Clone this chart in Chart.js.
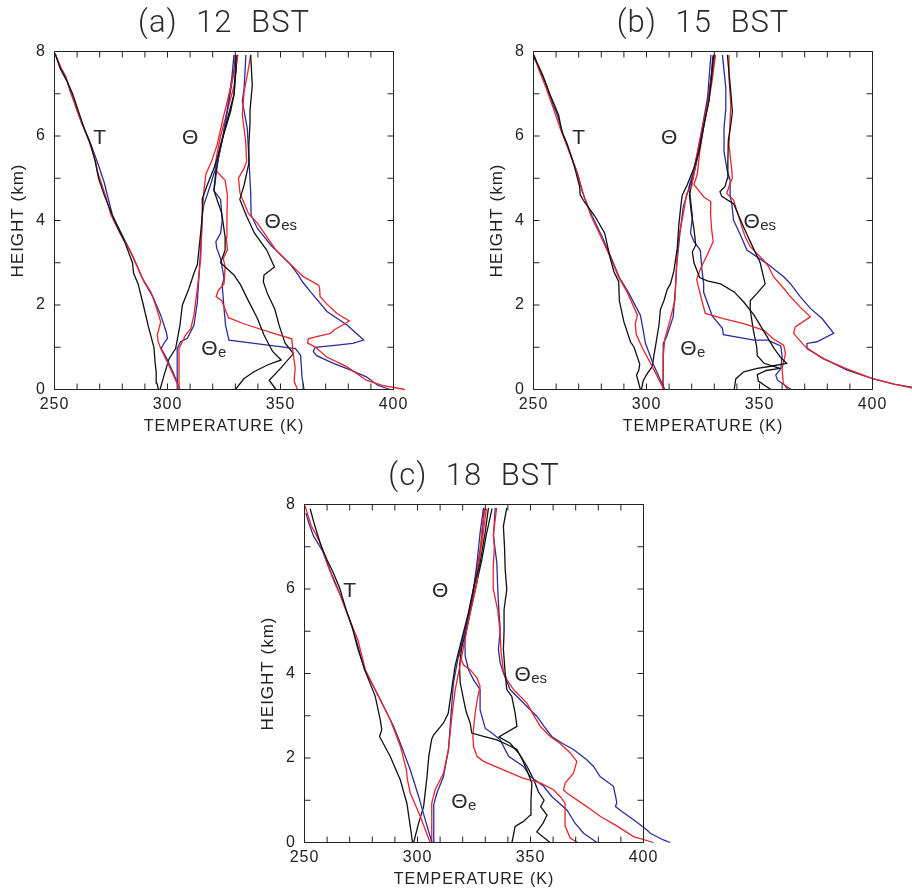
<!DOCTYPE html>
<html>
<head>
<meta charset="utf-8">
<script src="https://cdn.jsdelivr.net/npm/chart.js@4.4.1/dist/chart.umd.min.js"></script>
<style>
  html, body { margin: 0; padding: 0; background: #fff; overflow: hidden; width: 912px; height: 888px; }
  canvas { position: absolute; }
</style>
</head>
<body>
<canvas id="panelA" width="456" height="444" style="left:0px;top:0px"></canvas>
<canvas id="panelB" width="456" height="444" style="left:479px;top:0px"></canvas>
<canvas id="panelC" width="456" height="444" style="left:250px;top:453px"></canvas>
<script>
// profiles as [temperature K, height km], bottom to top

// ---- (a) 12 BST ----
const a_T_k = [[296,0],[295.3,0.15],[295,0.4],[294.5,0.65],[294,1.0],[291.5,1.5],[289.3,2.0],[287,2.5],[285,2.75],[284.5,3.0],[281,3.5],[276.5,4.0],[272,4.6],[269.5,5.0],[268,5.4],[266,5.8],[263,6.2],[260.5,6.6],[258,7.0],[255.5,7.3],[252.5,7.6],[250.3,7.95]];
const a_T_r = [[305.5,0],[302.5,0.35],[299.9,0.65],[297,0.97],[295.8,1.15],[295.5,1.3],[297,1.6],[295,1.95],[292.6,2.31],[288.9,2.63],[283.7,3.26],[279,3.7],[275,4.13],[272.5,4.6],[269,5.16],[268.2,5.4],[265.3,5.87],[262.6,6.25],[260.1,6.58],[257.8,6.95],[255.7,7.29],[253,7.6],[250.5,7.92]];
const a_T_b = [[305.5,0],[302.5,0.4],[299.5,0.75],[297.2,0.97],[298.5,1.1],[300,1.21],[299.5,1.35],[297,1.76],[293.5,2.2],[289.6,2.55],[284.4,3.18],[280,3.65],[275.6,4.13],[272,4.9],[269.5,5.3],[267.5,5.6],[265,5.95],[262,6.3],[259.5,6.7],[257,7.05],[255,7.4],[252.5,7.65],[250.2,7.95]];
const a_th_k = [[296.7,0],[298.5,0.34],[300.7,0.73],[303.6,0.97],[305.5,1.52],[306.6,2.0],[309.5,2.39],[311.7,2.75],[313.2,2.95],[314.7,3.72],[315.4,4.13],[315.4,4.52],[317.6,4.84],[320.6,5.24],[322,5.47],[323.5,5.79],[325.7,6.18],[327.9,6.58],[329.4,6.97],[330,7.5],[330.2,7.92]];
const a_th_r = [[305.2,0],[305.1,0.97],[306.6,1.13],[308,1.29],[310.3,1.44],[311.7,1.76],[313.2,2.39],[314.7,3.1],[315.4,4.13],[316.1,4.7],[317,5.1],[319.5,5.4],[322,5.8],[324.5,6.4],[326.8,6.9],[329,7.4],[331.2,7.92]];
const a_th_b = [[304.3,0],[304.3,0.97],[305.8,1.13],[308.8,1.21],[311.7,1.52],[313.2,2.07],[314.7,3.34],[315.4,4.13],[316.1,4.37],[319,4.84],[321.3,5.24],[322.8,5.55],[325,6.1],[327.2,6.89],[328.5,7.4],[329.4,7.92]];
const a_the_k = [[330,0],[333.9,0.26],[338.3,0.42],[344.2,0.58],[350.3,0.7],[346.5,0.9],[342.7,1.29],[339.8,1.68],[335.3,2.15],[332.4,2.47],[329.4,2.71],[323.5,3.0],[325.5,3.3],[325.5,3.6],[324,4.17],[320.5,4.72],[321.5,5.2],[323,5.6],[325,6.1],[327.5,6.6],[329.5,7.0],[330.8,7.92]];
const a_the_r = [[357.5,0],[356,0.2],[356.5,0.5],[355.5,0.9],[355,1.2],[347,1.33],[334,1.55],[327,1.7],[325.5,1.9],[324,2.1],[321.5,2.2],[322.5,2.35],[325,2.5],[325.5,2.9],[324.7,3.1],[326.5,3.3],[326,3.6],[326.3,4.1],[326.5,4.6],[325.5,4.95],[322,5.15],[321,5.3],[322,5.6],[323.5,6.0],[325.5,6.4],[327.5,6.8],[329.5,7.2],[331,7.92]];
const a_the_b = [[360.4,0],[359.5,0.3],[358.9,0.81],[356.6,0.97],[338.3,1.09],[327.2,1.17],[325.7,1.52],[325,1.92],[324.2,2.47],[325,2.63],[323.5,3.1],[321.8,3.34],[321.4,3.5],[323.5,3.7],[324.2,4.0],[323.5,4.5],[320.6,4.7],[321.3,5.0],[322.5,5.5],[324.5,6.0],[326.5,6.6],[328,7.1],[329.5,7.6],[330,7.92]];
const a_thes_k = [[348,0],[345,0.22],[350,0.5],[355.7,0.85],[352,1.1],[349.5,1.5],[347.5,1.9],[344.2,2.27],[342.4,2.55],[342.7,2.71],[347.3,2.9],[343.9,3.3],[338.5,3.7],[335,4.1],[332,4.5],[333.9,4.84],[336,5.35],[336,5.8],[336.5,6.3],[336.5,6.6],[337.5,7.2],[336.8,7.92]];
const a_thes_r = [[405,0],[395,0.1],[388,0.22],[379.3,0.54],[370.4,0.77],[365.3,1.01],[362,1.1],[362.3,1.2],[366,1.25],[372.2,1.33],[373.7,1.41],[380.5,1.62],[375,1.8],[370,2.05],[367.5,2.2],[367.3,2.4],[366.9,2.47],[360.1,2.67],[354.2,2.98],[348,3.3],[343.9,3.62],[339.6,3.95],[335.8,4.17],[332.1,4.64],[331.4,5.0],[333.9,5.24],[335,5.4],[334.6,5.87],[333.1,6.5],[333.9,7.05],[335.5,7.5],[336.8,7.92]];
const a_thes_b = [[398.5,0],[393,0.1],[388,0.3],[380,0.48],[373.4,0.62],[366,0.8],[364.5,0.9],[365.3,1.0],[375,1.05],[382,1.09],[386.8,1.17],[379.6,1.52],[370.7,1.84],[363.3,2.31],[359.7,2.55],[358,2.7],[354.5,2.95],[345.7,3.42],[339.8,3.81],[337,4.13],[336.8,4.68],[336.1,5.39],[335.3,6.18],[333.1,6.82],[333.9,7.13],[334.7,7.92]];

// ---- (b) 15 BST ----
const b_T_k = [[297.3,0],[295.6,0.34],[296.6,0.46],[297,0.6],[294.5,1.0],[292.9,1.13],[290,1.6],[288,2.1],[287.7,2.55],[285.5,2.8],[284,3.1],[281.5,3.7],[277.2,4.1],[272.4,4.45],[270.7,4.6],[270.4,4.8],[268,5.3],[265,5.8],[262.6,6.1],[261.1,6.5],[257.4,6.97],[254,7.45],[250,7.92]];
const b_T_r = [[307.7,0],[302,0.6],[298,1.0],[295.5,1.3],[295,1.55],[296,1.76],[291.4,2.31],[287.7,2.65],[284.8,3.03],[280,3.6],[275.5,4.1],[272.2,4.6],[269.2,5.16],[266,5.6],[261.8,6.18],[258.5,6.7],[255.5,7.15],[252.5,7.55],[250.2,7.92]];
const b_T_b = [[308.1,0],[303,0.6],[299.5,1.1],[298.8,1.33],[297.3,1.76],[292,2.3],[288,2.65],[284.5,3.1],[280.5,3.6],[276,4.1],[272.8,4.5],[271.5,4.7],[269.5,5.1],[266.5,5.55],[263,6.05],[260.5,6.5],[258.1,6.82],[255,7.3],[252,7.65],[250,7.88]];
const b_th_k = [[297.8,0],[298.5,0.2],[300,0.35],[302.5,0.54],[303.3,0.81],[304,1.03],[305.5,1.52],[306.2,1.9],[307.7,2.1],[309.2,2.37],[310.6,2.5],[312.1,2.8],[313.6,3.34],[314.3,3.89],[315.1,4.3],[315.8,4.6],[318,4.84],[321,5.24],[323.2,5.63],[325.4,6.26],[327.6,6.82],[328.8,7.4],[329.6,7.92]];
const b_th_r = [[307.6,0],[307.4,0.77],[308.1,1.2],[310.4,1.64],[312.6,2.12],[313.3,2.91],[314.1,3.54],[316.3,4.17],[317.8,4.64],[320,4.8],[320.7,5.04],[322.2,5.51],[325.1,6.3],[327.4,6.86],[328.8,7.4],[330.3,7.88]];
const b_th_b = [[307.3,0],[307.4,1.09],[308.9,1.25],[311.8,1.72],[312.8,2.4],[313.3,2.91],[314.8,3.7],[316.3,4.33],[318.5,4.72],[320.7,5.04],[323.7,5.75],[325.9,6.38],[327.8,7.0],[328.8,7.5],[329.3,7.88]];
const b_the_k = [[338.8,0],[339.5,0.25],[343,0.42],[349,0.5],[355,0.55],[362,0.62],[359.5,0.75],[356.5,0.97],[352,1.37],[347.6,1.76],[343,2.07],[338.8,2.31],[332.8,2.5],[326.9,2.57],[323.5,2.65],[321,3.0],[320.3,3.26],[321.8,3.42],[321,3.8],[319.8,4.2],[319,4.6],[320.5,5.0],[322.5,5.5],[325,6.2],[327.5,6.9],[329.8,7.92]];
const b_the_r = [[362.5,0],[360.5,0.15],[360,0.5],[361.5,0.85],[360.7,1.05],[356,1.2],[352,1.4],[343,1.56],[334,1.68],[326,1.8],[324.5,2.1],[322.2,2.6],[323.8,2.85],[327,3.2],[329.5,3.5],[328.8,3.8],[328.3,4.2],[328.4,4.45],[325.5,4.55],[321,4.85],[322.5,5.1],[323.5,5.6],[325.5,6.3],[327.5,6.8],[329,7.3],[330.5,7.92]];
const b_the_b = [[364,0],[358,0.22],[357.2,0.34],[359.5,0.5],[360,0.8],[359.4,1.03],[353.6,1.17],[347.6,1.17],[334,1.3],[333.6,1.45],[329,1.75],[325.3,2.3],[325.3,2.5],[324.5,2.85],[323.8,3.3],[321,3.5],[319.5,3.7],[320.3,4.1],[319.5,4.5],[318.8,4.8],[320.5,5.1],[322.5,5.6],[325,6.3],[327,6.9],[328.5,7.92]];
const b_thes_k = [[355,0],[349.5,0.2],[349,0.35],[353,0.45],[359,0.5],[352,0.62],[349,0.8],[348.8,1.0],[347.3,1.4],[345.9,1.88],[345.9,2.1],[348.8,2.27],[352.5,2.5],[350.3,3.0],[345.9,3.5],[342.9,3.85],[338.5,4.4],[333.3,4.57],[332.5,4.68],[334.7,4.8],[335.8,5.0],[336,5.4],[336.2,5.9],[337.3,6.26],[338,6.58],[337.3,7.05],[336.5,7.5],[335.8,7.92]];
const b_thes_r = [[421,0],[410,0.12],[400,0.26],[389,0.48],[378,0.73],[370.3,1.01],[365.1,1.33],[365.8,1.48],[372.5,1.72],[368,1.95],[363.6,2.2],[361.4,2.35],[356.2,2.67],[354,2.91],[351.8,3.06],[345.9,3.38],[343.6,3.62],[342.2,3.85],[339.9,4.25],[338.5,4.49],[335.5,4.64],[337,4.88],[338,5.0],[337.7,5.2],[336.5,5.79],[337.3,6.74],[336.5,7.37],[336.5,7.92]];
const b_thes_b = [[420,0.03],[410,0.12],[400,0.26],[388.8,0.46],[378.4,0.73],[371,0.97],[371,1.09],[375.4,1.13],[382.8,1.33],[377.7,1.68],[372.5,1.92],[368,2.2],[363.6,2.51],[360.7,2.67],[353.3,2.98],[344.4,3.3],[342.2,3.58],[338.5,4.01],[337.7,4.41],[337,4.57],[337,4.96],[335.8,5.16],[334.3,5.63],[334.3,6.18],[335,6.6],[335.1,7.13],[333.6,7.92]];

// ---- (c) 18 BST ----
const c_T_k = [[297.8,0],[296.8,0.38],[295.3,0.93],[292.4,1.48],[287.9,2.04],[283.2,2.51],[284.2,2.67],[283.5,2.91],[281.3,3.46],[276.9,4.05],[273.5,4.6],[271,5.12],[268.5,5.5],[266.6,5.83],[265.8,5.99],[262.8,6.38],[259.9,6.7],[257.5,7.0],[255.5,7.33],[254,7.6],[252.5,7.9]];
const c_T_r = [[305.6,0],[301.2,0.62],[296.8,1.17],[295.5,1.5],[295.1,1.72],[292.4,2.28],[287.9,2.91],[283.5,3.38],[276.9,4.09],[273.6,4.8],[270.5,5.2],[267.7,5.59],[265.5,5.9],[263.3,6.15],[260,6.6],[257.5,7.01],[255,7.3],[253,7.49],[250.2,7.97]];
const c_T_b = [[306.4,0],[303.4,0.54],[300.5,1.09],[296.8,1.72],[292.4,2.35],[289.4,2.75],[282.8,3.46],[276.5,4.1],[272,4.96],[269,5.4],[266.1,5.83],[264,6.1],[261.8,6.38],[258,6.9],[254,7.25],[252,7.55],[250.6,7.8]];
const c_th_k = [[298.3,0],[299.5,0.25],[300.5,0.46],[302.7,0.85],[304.2,1.56],[305,2.04],[306.3,2.45],[307.2,2.55],[311.5,2.83],[313.6,3.06],[315.1,3.62],[316.6,4.17],[319.5,4.8],[322.5,5.43],[324.7,6.0],[327.7,6.62],[329.9,7.33],[331.4,7.92]];
const c_th_r = [[306.3,0],[306.3,0.93],[307.8,1.25],[311.5,1.64],[313.7,2.2],[315.2,2.99],[316.7,3.62],[319.6,4.41],[321.8,5.04],[324,5.59],[326.3,6.15],[327.7,6.86],[328.5,7.4],[329.9,7.92]];
const c_th_b = [[307.1,0],[307.2,0.9],[308.6,1.17],[311.5,1.56],[313.7,2.2],[314.8,3.0],[315.9,3.78],[318.1,4.41],[320.4,4.88],[323.3,5.51],[324.8,5.99],[326.5,6.7],[327.7,7.33],[329.2,7.92]];
const c_the_k = [[341.8,0],[343.2,0.38],[346.9,0.5],[349.9,0.65],[350.2,1.0],[350.6,1.4],[348.5,1.7],[346.9,1.9],[344,2.2],[339.6,2.32],[335.1,2.43],[329.2,2.51],[324,2.59],[323.3,2.83],[321.5,3.1],[320.4,3.38],[318.9,3.78],[318.6,4.17],[319.5,4.6],[321.5,5.0],[323.5,5.5],[326,6.1],[328.5,6.7],[330.5,7.3],[333,7.9]];
const c_the_r = [[371,0],[367.6,0.1],[365.4,0.38],[365.3,0.93],[363.1,1.09],[360.2,1.25],[354.3,1.41],[346.9,1.52],[338,1.72],[329.2,1.92],[326.3,2.04],[324.8,2.27],[324.5,2.51],[325,2.8],[325.5,3.06],[326.5,3.4],[327.7,3.7],[326.3,3.9],[323.3,4.09],[320.4,4.2],[318.5,4.45],[320.5,4.9],[322.5,5.4],[324.5,5.9],[326.5,6.5],[328.5,7.1],[330.5,7.9]];
const c_the_b = [[379.4,0],[373.5,0.22],[369.8,0.45],[366.1,0.77],[359.4,1.09],[355.8,1.33],[349.9,1.56],[346.9,1.8],[340.3,2.04],[336.6,2.43],[332.2,2.62],[330,2.7],[327.7,3.14],[327.7,3.62],[324.8,3.85],[322.6,4.09],[321.1,4.41],[321,4.8],[322.5,5.3],[324.5,5.9],[326.5,6.5],[328.5,7.2],[329.5,7.9]];
const c_thes_k = [[358.7,0],[352.8,0.25],[355.5,0.45],[357.3,0.65],[354.5,0.85],[356,1.0],[353.5,1.2],[351.3,1.5],[348.5,1.8],[345,2.1],[341,2.35],[336,2.5],[344,2.75],[343.2,3.06],[341.7,3.46],[339.5,3.62],[338.8,4.01],[338,4.57],[338.3,5.0],[338.3,5.51],[339.5,5.99],[338.8,6.46],[338.5,7.0],[338,7.49],[339.5,7.92]];
const c_thes_r = [[404.4,0],[395.6,0.14],[388,0.4],[380.8,0.62],[374.9,0.85],[366.1,1.17],[364.6,1.25],[365.4,1.41],[369,1.64],[370.5,1.92],[367.6,2.12],[363,2.35],[358.7,2.51],[354.3,2.75],[351,3.05],[348.4,3.3],[342.5,3.62],[339.6,3.85],[338,4.05],[337,4.5],[336.5,5.0],[335.5,5.5],[333.5,6.0],[333.5,6.5],[334,7.0],[333.6,7.3],[335,7.92]];
const c_thes_b = [[411.8,0],[408.8,0.06],[403,0.22],[401.4,0.3],[395.6,0.54],[390,0.75],[387.6,0.85],[388.2,0.95],[386.7,1.33],[380.8,1.56],[377.9,1.8],[374.9,1.96],[369,2.2],[364,2.35],[359.4,2.51],[356,2.75],[352.8,2.99],[348.4,3.22],[341,3.62],[338,4.01],[336.6,4.25],[335.8,4.57],[336.6,5.04],[336,5.5],[335.5,6.0],[335.1,6.62],[333.6,7.25],[334.4,7.92]];

// axes
const X_LABELS = [250, 300, 350, 400];
const Y_LABELS = [0, 2, 4, 6, 8];
const X_MINOR = [250, 260, 270, 280, 290, 300, 310, 320, 330, 340, 350, 360, 370, 380, 390, 400];
const Y_MINOR = [0, 1, 2, 3, 4, 5, 6, 7, 8];

// curve names inside each panel (anchored in data units)
const NOTE_TEXT = ['T', 'Θ', 'Θ', 'Θ'];
const NOTE_SUB = ['', '', 'es', 'e'];
const NOTE_X = [270, 310, 346.5, 318.5];
const NOTE_Y = [6.0, 6.0, 4.0, 1.0];

const COLORS = { k: '#111111', r: '#e8262a', b: '#2b2d9e' };
const FONT = "'Liberation Sans', Arial, sans-serif";

Chart.defaults.font.family = FONT;
Chart.defaults.font.size = 16;
Chart.defaults.color = '#222';

function line(points, color) {
  return {
    data: points.map(p => ({ x: p[0], y: p[1] })),
    borderColor: color,
    borderWidth: 1.3,
    pointRadius: 0,
    fill: false,
    tension: 0,
    clip: false
  };
}

const boxPlugin = {
  id: 'box',
  beforeDraw(chart) {
    chart.ctx.letterSpacing = '1px';
  },
  afterDatasetsDraw(chart, args, opts) {
    const { ctx, chartArea: a, scales: { x, y } } = chart;
    const tick = 6;
    ctx.save();
    ctx.letterSpacing = '0px';
    ctx.strokeStyle = '#222';
    ctx.lineWidth = 1;
    ctx.beginPath();
    ctx.rect(a.left, a.top, a.right - a.left, a.bottom - a.top);
    X_MINOR.forEach(v => {
      const px = x.getPixelForValue(v);
      ctx.moveTo(px, a.bottom); ctx.lineTo(px, a.bottom - tick);
      ctx.moveTo(px, a.top); ctx.lineTo(px, a.top + tick);
    });
    Y_MINOR.forEach(v => {
      const py = y.getPixelForValue(v);
      ctx.moveTo(a.left, py); ctx.lineTo(a.left + tick, py);
      ctx.moveTo(a.right, py); ctx.lineTo(a.right - tick, py);
    });
    ctx.stroke();

    // panel title
    ctx.fillStyle = '#2a2a2a';
    ctx.textAlign = 'center';
    ctx.textBaseline = 'alphabetic';
    ctx.font = "300 31px Roboto, " + FONT;
    ctx.letterSpacing = '1px';
    ctx.wordSpacing = '10px';
    ctx.fillText(opts.title, (a.left + a.right) / 2, a.top - 20);
    ctx.wordSpacing = '0px';
    ctx.letterSpacing = '0px';

    // curve names
    NOTE_TEXT.forEach((t, i) => {
      const px = x.getPixelForValue(NOTE_X[i]);
      const py = y.getPixelForValue(NOTE_Y[i]);
      ctx.font = '21px ' + FONT;
      ctx.textAlign = 'center';
      ctx.fillText(t, px, py + 7.5);
      if (NOTE_SUB[i]) {
        const w = ctx.measureText(t).width;
        ctx.font = '15px ' + FONT;
        ctx.textAlign = 'left';
        ctx.fillText(NOTE_SUB[i], px + w / 2 + 0.5, py + 9.5);
      }
    });
    ctx.restore();
  }
};

function makePanel(id, title, sets) {
  const datasets = [];
  sets.forEach(s => {
    datasets.push(line(s[0], COLORS.k));
    datasets.push(line(s[1], COLORS.r));
    datasets.push(line(s[2], COLORS.b));
  });
  return new Chart(document.getElementById(id), {
    type: 'line',
    data: { datasets },
    options: {
      responsive: false,
      animation: false,
      events: [],
      layout: { padding: { top: 51.5, left: 0, right: 62.5, bottom: 4.5 } },
      scales: {
        x: {
          type: 'linear',
          min: 250,
          max: 400,
          grid: { display: false, drawTicks: false },
          border: { display: false },
          afterBuildTicks: s => { s.ticks = X_LABELS.map(v => ({ value: v })); },
          afterFit: s => { s.height = 50; },
          ticks: { padding: 5.5, maxRotation: 0, font: { size: 16 } },
          title: { display: true, text: 'TEMPERATURE (K)', font: { size: 16 }, padding: { top: 0, bottom: 3 } }
        },
        y: {
          type: 'linear',
          min: 0,
          max: 8,
          grid: { display: false, drawTicks: false },
          border: { display: false },
          afterBuildTicks: s => { s.ticks = Y_LABELS.map(v => ({ value: v })); },
          afterFit: s => { s.width = 54.5; },
          ticks: { padding: 8.5, font: { size: 16 } },
          title: { display: true, text: 'HEIGHT (km)', font: { size: 17 }, padding: { top: 8, bottom: 0 } }
        }
      },
      plugins: {
        legend: { display: false },
        tooltip: { enabled: false },
        box: { title }
      }
    },
    plugins: [boxPlugin]
  });
}

makePanel('panelA', '(a) 12 BST', [
  [a_T_k, a_T_r, a_T_b], [a_th_k, a_th_r, a_th_b],
  [a_the_k, a_the_r, a_the_b], [a_thes_k, a_thes_r, a_thes_b]
]);
makePanel('panelB', '(b) 15 BST', [
  [b_T_k, b_T_r, b_T_b], [b_th_k, b_th_r, b_th_b],
  [b_the_k, b_the_r, b_the_b], [b_thes_k, b_thes_r, b_thes_b]
]);
makePanel('panelC', '(c) 18 BST', [
  [c_T_k, c_T_r, c_T_b], [c_th_k, c_th_r, c_th_b],
  [c_the_k, c_the_r, c_the_b], [c_thes_k, c_thes_r, c_thes_b]
]);
</script>
</body>
</html>
